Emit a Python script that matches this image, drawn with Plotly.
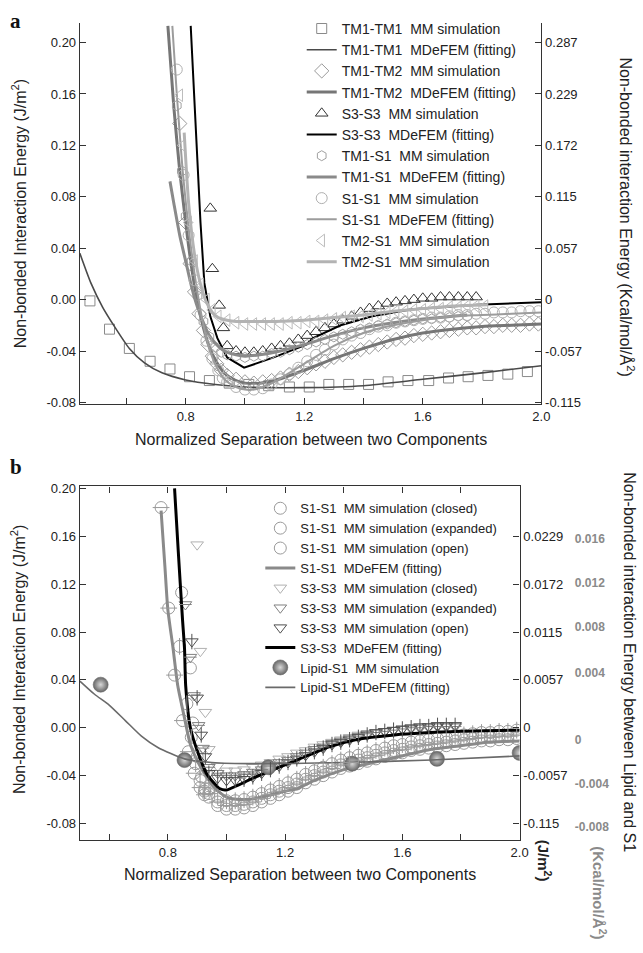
import plotly.graph_objects as go

W, H = 643, 953
NB = "\u00a0"

# ---------------- data ----------------
# shared separation grid for the dense MM series
G = [0.94, 0.97, 1.00, 1.03, 1.06, 1.09, 1.12, 1.15, 1.18, 1.21, 1.24, 1.27,
     1.30, 1.33, 1.36, 1.39, 1.42, 1.45, 1.48, 1.51, 1.54, 1.57, 1.60, 1.63,
     1.66, 1.69, 1.72, 1.75, 1.78, 1.81, 1.84, 1.87, 1.90, 1.93, 1.96, 1.99]

# ----- panel a -----
A_TM1TM1_MM_X = [0.477, 0.543, 0.610, 0.680, 0.747, 0.813, 0.880, 0.947, 1.013, 1.080, 1.150, 1.217,
                 1.283, 1.350, 1.417, 1.483, 1.550, 1.620, 1.687, 1.753, 1.820, 1.887, 1.953]
A_TM1TM1_MM_Y = [-0.001, -0.023, -0.038, -0.048, -0.054, -0.060, -0.063, -0.065, -0.066, -0.067, -0.068, -0.068,
                 -0.066, -0.066, -0.066, -0.064, -0.063, -0.063, -0.061, -0.060, -0.059, -0.058, -0.056]
A_TM1TM1_FIT_X = [0.443, 0.48, 0.52, 0.56, 0.61, 0.66, 0.72, 0.80, 0.90, 1.00, 1.20, 1.40, 1.60, 1.80, 2.00]
A_TM1TM1_FIT_Y = [0.036, 0.013, -0.006, -0.021, -0.038, -0.049, -0.057, -0.0625, -0.066, -0.068, -0.0685,
                  -0.067, -0.062, -0.057, -0.0515]

A_TM1TM2_MM_STEEP_X = [0.78, 0.80, 0.815, 0.83, 0.845, 0.86, 0.875, 0.89, 0.905, 0.92]
A_TM1TM2_MM_STEEP_Y = [0.137, 0.060, 0.028, 0.006, -0.011, -0.024, -0.035, -0.044, -0.050, -0.055]
A_TM1TM2_MM_Y = [-0.059, -0.062, -0.064, -0.065, -0.064, -0.063, -0.061, -0.058, -0.056, -0.053, -0.050, -0.048,
                 -0.045, -0.043, -0.041, -0.039, -0.037, -0.035, -0.033, -0.031, -0.030, -0.028, -0.027, -0.026,
                 -0.025, -0.024, -0.023, -0.022, -0.022, -0.021, -0.021, -0.020, -0.020, -0.020, -0.019, -0.019]
A_TM1TM2_FIT_X = [0.74, 0.76, 0.78, 0.80, 0.82, 0.84, 0.86, 0.88, 0.90, 0.93, 0.96, 1.00, 1.05, 1.10,
                  1.20, 1.30, 1.40, 1.50, 1.60, 1.70, 1.80, 1.90, 2.00]
A_TM1TM2_FIT_Y = [0.213, 0.150, 0.100, 0.060, 0.025, -0.002, -0.022, -0.037, -0.047, -0.057, -0.062, -0.065,
                  -0.065, -0.063, -0.055, -0.046, -0.038, -0.031, -0.026, -0.023, -0.021, -0.020, -0.019]

A_S3S3_MM_STEEP_X = [0.883, 0.89, 0.913, 0.927]
A_S3S3_MM_STEEP_Y = [0.071, 0.024, -0.0045, -0.022]
A_S3S3_MM_Y = [-0.036, -0.040, -0.041, -0.041, -0.040, -0.038, -0.036, -0.034, -0.031, -0.028, -0.025, -0.022,
               -0.019, -0.016, -0.013, -0.010, -0.007, -0.005, -0.003, -0.002, -0.001, 0.000, 0.001, 0.001,
               0.002, 0.002, 0.002, 0.002, 0.002]
A_S3S3_FIT_X = [0.817, 0.832, 0.85, 0.863, 0.883, 0.907, 0.94, 0.997, 1.097, 1.207, 1.23, 1.323, 1.43,
                1.563, 1.783, 2.0]
A_S3S3_FIT_Y = [0.213, 0.140, 0.060, 0.013, -0.013, -0.030, -0.045, -0.053, -0.045, -0.035, -0.030, -0.020,
                -0.013, -0.0075, -0.004, -0.002]

A_TM1S1_MM_STEEP_X = [0.77, 0.787, 0.80, 0.82, 0.84, 0.86, 0.88, 0.90, 0.92]
A_TM1S1_MM_STEEP_Y = [0.151, 0.100, 0.065, 0.030, 0.003, -0.017, -0.029, -0.037, -0.041]
A_TM1S1_MM_Y = [-0.043, -0.044, -0.045, -0.044, -0.044, -0.042, -0.041, -0.039, -0.037, -0.035, -0.033, -0.031,
                -0.029, -0.027, -0.025, -0.023, -0.022, -0.020, -0.019, -0.018, -0.017, -0.016, -0.015, -0.015,
                -0.014, -0.014, -0.013, -0.013]
A_TM1S1_FIT_X = [0.747, 0.76, 0.78, 0.80, 0.82, 0.84, 0.86, 0.88, 0.90, 0.93, 0.97, 1.00, 1.05, 1.10,
                 1.20, 1.30, 1.40, 1.50, 1.60, 1.70, 1.75]
A_TM1S1_FIT_Y = [0.092, 0.075, 0.050, 0.030, 0.010, -0.006, -0.018, -0.028, -0.034, -0.040, -0.043, -0.044,
                 -0.043, -0.041, -0.035, -0.028, -0.022, -0.018, -0.015, -0.013, -0.012]

A_S1S1_MM_STEEP_X = [0.77, 0.793, 0.81, 0.83, 0.85, 0.87, 0.89, 0.91, 0.925]
A_S1S1_MM_STEEP_Y = [0.179, 0.097, 0.050, 0.015, -0.012, -0.032, -0.046, -0.055, -0.061]
A_S1S1_MM_Y = [-0.064, -0.068, -0.070, -0.070, -0.069, -0.066, -0.062, -0.058, -0.053, -0.048, -0.043, -0.039,
               -0.035, -0.031, -0.028, -0.026, -0.023, -0.021, -0.020, -0.018, -0.017, -0.016, -0.015, -0.014,
               -0.014, -0.013, -0.012, -0.012, -0.011, -0.011, -0.010, -0.010, -0.010, -0.009, -0.009, -0.009]
A_S1S1_FIT_X = [0.755, 0.77, 0.79, 0.81, 0.83, 0.85, 0.87, 0.89, 0.91, 0.94, 0.97, 1.00, 1.03, 1.07, 1.10,
                1.15, 1.20, 1.30, 1.40, 1.50, 1.60, 1.70, 1.80, 1.90, 2.00]
A_S1S1_FIT_Y = [0.213, 0.160, 0.100, 0.055, 0.020, -0.008, -0.030, -0.045, -0.055, -0.064, -0.068, -0.070,
                -0.070, -0.067, -0.064, -0.057, -0.050, -0.036, -0.026, -0.020, -0.016, -0.013, -0.012, -0.011, -0.010]

A_TM2S1_MM_STEEP_X = [0.78, 0.79, 0.81, 0.83, 0.85, 0.87, 0.89, 0.91]
A_TM2S1_MM_STEEP_Y = [0.159, 0.120, 0.060, 0.030, 0.012, 0.000, -0.008, -0.013]
A_TM2S1_MM_Y = [-0.016, -0.018, -0.019, -0.019, -0.019, -0.019, -0.019, -0.018, -0.018, -0.017, -0.017, -0.016,
                -0.015, -0.014, -0.013, -0.013, -0.012, -0.011, -0.010, -0.009, -0.009, -0.008, -0.008, -0.007,
                -0.007, -0.006, -0.006, -0.005, -0.005, -0.005]
A_TM2S1_FIT_X = [0.795, 0.81, 0.83, 0.85, 0.87, 0.89, 0.91, 0.94, 0.97, 1.00, 1.10, 1.20, 1.30, 1.40,
                 1.50, 1.60, 1.70, 1.82]
A_TM2S1_FIT_Y = [0.130, 0.075, 0.035, 0.012, -0.002, -0.010, -0.014, -0.016, -0.017, -0.017, -0.017, -0.016,
                 -0.014, -0.012, -0.009, -0.007, -0.005, -0.004]

# ----- panel b -----
B_S1_CLOSED_STEEP_X = [0.847, 0.877, 0.885, 0.90, 0.915, 0.927]
B_S1_CLOSED_STEEP_Y = [0.113, 0.050, 0.004, -0.024, -0.041, -0.051]
B_S1_CLOSED_Y = [-0.058, -0.065, -0.068, -0.068, -0.067, -0.065, -0.062, -0.059, -0.056, -0.053, -0.050, -0.046,
                 -0.043, -0.040, -0.037, -0.034, -0.032, -0.030, -0.028, -0.026, -0.024, -0.022, -0.021, -0.019,
                 -0.018, -0.017, -0.016, -0.015, -0.014, -0.013, -0.012, -0.011, -0.011, -0.010, -0.010, -0.009]
B_S1_EXP_STEEP_X = [0.777, 0.803, 0.823, 0.85, 0.87, 0.89, 0.91, 0.925]
B_S1_EXP_STEEP_Y = [0.184, 0.100, 0.044, 0.006, -0.020, -0.038, -0.050, -0.056]
B_S1_EXP_Y = [-0.055, -0.062, -0.065, -0.065, -0.064, -0.062, -0.059, -0.056, -0.053, -0.050, -0.047, -0.043,
              -0.040, -0.037, -0.034, -0.031, -0.029, -0.027, -0.025, -0.023, -0.021, -0.019, -0.018, -0.016,
              -0.015, -0.014, -0.013, -0.012, -0.011, -0.010, -0.009, -0.008, -0.008, -0.007, -0.007, -0.006]
B_S1_OPEN_STEEP_X = [0.84, 0.865, 0.88, 0.895, 0.91, 0.925]
B_S1_OPEN_STEEP_Y = [0.068, 0.020, -0.008, -0.030, -0.044, -0.053]
B_S1_OPEN_Y = [-0.051, -0.058, -0.061, -0.061, -0.060, -0.058, -0.055, -0.052, -0.049, -0.046, -0.043, -0.039,
               -0.036, -0.033, -0.030, -0.027, -0.025, -0.023, -0.021, -0.019, -0.017, -0.015, -0.014, -0.012,
               -0.011, -0.010, -0.009, -0.008, -0.007, -0.006, -0.005, -0.004, -0.004, -0.003, -0.003, -0.002]
B_S1_FIT_X = [0.777, 0.79, 0.80, 0.817, 0.834, 0.857, 0.877, 0.91, 0.958, 1.00, 1.05, 1.10, 1.20, 1.24,
              1.30, 1.40, 1.50, 1.573, 1.70, 1.80, 1.90, 2.00]
B_S1_FIT_Y = [0.1815, 0.135, 0.099, 0.068, 0.035, 0.008, -0.014, -0.032, -0.050, -0.058, -0.060, -0.059,
              -0.053, -0.051, -0.044, -0.035, -0.029, -0.025, -0.018, -0.015, -0.012, -0.011]

B_S3_CLOSED_STEEP_X = [0.90, 0.911, 0.928]
B_S3_CLOSED_STEEP_Y = [0.153, 0.064, 0.013]
B_S3_CLOSED_Y = [-0.018, -0.032, -0.036, -0.036, -0.035, -0.033, -0.031, -0.029, -0.026, -0.024, -0.021, -0.019,
                 -0.016, -0.014, -0.012, -0.010, -0.008, -0.006, -0.005, -0.004, -0.003, -0.002, -0.001, -0.001,
                 0.000, 0.000, 0.001, 0.001, 0.001]
B_S3_EXP_STEEP_X = [0.86, 0.877, 0.89, 0.905, 0.92]
B_S3_EXP_STEEP_Y = [0.103, 0.059, 0.027, 0.002, -0.017]
B_S3_EXP_Y = [-0.033, -0.038, -0.040, -0.040, -0.039, -0.037, -0.035, -0.032, -0.029, -0.027, -0.024, -0.021,
              -0.018, -0.016, -0.013, -0.011, -0.009, -0.007, -0.005, -0.004, -0.003, -0.002, -0.001, 0.000,
              0.000, 0.001, 0.001, 0.001, 0.001]
B_S3_OPEN_STEEP_X = [0.882, 0.90, 0.914, 0.928]
B_S3_OPEN_STEEP_Y = [0.072, 0.025, -0.006, -0.024]
B_S3_OPEN_Y = [-0.038, -0.042, -0.044, -0.044, -0.043, -0.041, -0.038, -0.035, -0.032, -0.029, -0.026, -0.023,
               -0.020, -0.017, -0.014, -0.012, -0.010, -0.008, -0.006, -0.004, -0.003, -0.002, -0.001, 0.000,
               0.001, 0.001, 0.002, 0.002, 0.002]
B_S3_FIT_X = [0.823, 0.835, 0.85, 0.857, 0.861, 0.877, 0.90, 0.934, 0.978, 1.00, 1.10, 1.27, 1.35, 1.44,
              1.573, 1.80, 2.00]
B_S3_FIT_Y = [0.200, 0.150, 0.091, 0.066, 0.035, 0.000, -0.019, -0.039, -0.051, -0.052, -0.041, -0.024,
              -0.016, -0.010, -0.006, -0.003, -0.002]

B_LIPID_MM_X = [0.571, 0.857, 1.143, 1.429, 1.718, 2.0]
B_LIPID_MM_Y = [0.036, -0.027, -0.033, -0.030, -0.026, -0.021]
B_LIPID_FIT_X = [0.50, 0.55, 0.60, 0.655, 0.71, 0.766, 0.857, 0.95, 1.10, 1.40, 1.70, 2.00]
B_LIPID_FIT_Y = [0.039, 0.028, 0.019, 0.006, -0.007, -0.0165, -0.026, -0.029, -0.030, -0.029, -0.027, -0.0235]

# axis tick labels
LEFT_TICKS = [0.20, 0.16, 0.12, 0.08, 0.04, 0.00, -0.04, -0.08]
LEFT_TEXT = ["0.20", "0.16", "0.12", "0.08", "0.04", "0.00", "-0.04", "-0.08"]
A_RIGHT_TEXT = ["0.287", "0.229", "0.172", "0.115", "0.057", "0", "-0.057", "-0.115"]
B_RIGHT_TICKS = [0.16, 0.12, 0.08, 0.04, 0.00, -0.04, -0.08]
B_RIGHT_TEXT = ["0.0229", "0.0172", "0.0115", "0.0057", "0", "-0.0057", "-0.115"]
B_LIPID_TICKS = [0.158, 0.121, 0.084, 0.046, -0.0099, -0.047, -0.0825]
B_LIPID_TEXT = ["0.016", "0.012", "0.008", "0.004", "0", "-0.004", "-0.008"]
X_TICKS = [0.8, 1.2, 1.6, 2.0]
X_TEXT = ["0.8", "1.2", "1.6", "2.0"]
X_MINOR = [0.6, 1.0, 1.4, 1.8]

# ---------------- figure ----------------
FONT = "Arial, Liberation Sans, sans-serif"
fig = go.Figure()


def mm(x, y, name, sym, color, size, ax, leg="legend", lw=1.0, show=True):
    fig.add_trace(go.Scatter(
        x=x, y=y, name=name, mode="markers", xaxis=ax[0], yaxis=ax[1], legend=leg,
        showlegend=show, cliponaxis=True, hoverinfo="skip",
        marker=dict(symbol=sym, size=size, color=color, line=dict(width=lw, color=color))))


def fit(x, y, name, color, width, ax, leg, shape="spline"):
    fig.add_trace(go.Scatter(
        x=x, y=y, name=name, mode="lines", xaxis=ax[0], yaxis=ax[1], legend=leg, hoverinfo="skip",
        line=dict(color=color, width=width, shape=shape, smoothing=0.6)))


AX_A = ("x", "y")
AX_B = ("x2", "y3")

# panel a traces (legend order)
mm(A_TM1TM1_MM_X, A_TM1TM1_MM_Y, "TM1-TM1" + NB * 2 + "MM simulation", "square-open", "#8a8a8a", 10, AX_A)
fit(A_TM1TM1_FIT_X, A_TM1TM1_FIT_Y, "TM1-TM1" + NB * 2 + "MDeFEM (fitting)", "#4a4a4a", 1.6, AX_A, "legend")
mm(A_TM1TM2_MM_STEEP_X + G, A_TM1TM2_MM_STEEP_Y + A_TM1TM2_MM_Y, "TM1-TM2" + NB * 2 + "MM simulation",
   "diamond-open", "#9a9a9a", 11, AX_A)
fit(A_TM1TM2_FIT_X, A_TM1TM2_FIT_Y, "TM1-TM2" + NB * 2 + "MDeFEM (fitting)", "#767676", 3, AX_A, "legend")
mm(A_S3S3_MM_STEEP_X + G[:29], A_S3S3_MM_STEEP_Y + A_S3S3_MM_Y, "S3-S3" + NB * 2 + "MM simulation",
   "triangle-up-open", "#333333", 11, AX_A)
fit(A_S3S3_FIT_X, A_S3S3_FIT_Y, "S3-S3" + NB * 2 + "MDeFEM (fitting)", "#000000", 2, AX_A, "legend", "linear")
mm(A_TM1S1_MM_STEEP_X + G[:28], A_TM1S1_MM_STEEP_Y + A_TM1S1_MM_Y, "TM1-S1" + NB * 2 + "MM simulation",
   "hexagon-open", "#a0a0a0", 10, AX_A)
fit(A_TM1S1_FIT_X, A_TM1S1_FIT_Y, "TM1-S1" + NB * 2 + "MDeFEM (fitting)", "#8a8a8a", 3, AX_A, "legend")
mm(A_S1S1_MM_STEEP_X + G, A_S1S1_MM_STEEP_Y + A_S1S1_MM_Y, "S1-S1" + NB * 2 + "MM simulation",
   "circle-open", "#b0b0b0", 11, AX_A)
fit(A_S1S1_FIT_X, A_S1S1_FIT_Y, "S1-S1" + NB * 2 + "MDeFEM (fitting)", "#9c9c9c", 2, AX_A, "legend")
mm(A_TM2S1_MM_STEEP_X + G[:30], A_TM2S1_MM_STEEP_Y + A_TM2S1_MM_Y, "TM2-S1" + NB * 2 + "MM simulation",
   "triangle-left-open", "#bdbdbd", 11, AX_A)
fit(A_TM2S1_FIT_X, A_TM2S1_FIT_Y, "TM2-S1" + NB * 2 + "MM simulation", "#b3b3b3", 3, AX_A, "legend")

# panel b traces
S1C = "#9a9a9a"
mm(B_S1_CLOSED_STEEP_X + G, B_S1_CLOSED_STEEP_Y + B_S1_CLOSED_Y, "S1-S1" + NB * 2 + "MM simulation (closed)",
   "circle-open", S1C, 12, AX_B, "legend2")
mm(B_S1_EXP_STEEP_X + G, B_S1_EXP_STEEP_Y + B_S1_EXP_Y, "S1-S1" + NB * 2 + "MM simulation (expanded)",
   "circle-open", S1C, 12, AX_B, "legend2")
mm(B_S1_OPEN_STEEP_X + G, B_S1_OPEN_STEEP_Y + B_S1_OPEN_Y, "S1-S1" + NB * 2 + "MM simulation (open)",
   "circle-open", S1C, 12, AX_B, "legend2")
fit(B_S1_FIT_X, B_S1_FIT_Y, "S1-S1" + NB * 2 + "MDeFEM (fitting)", "#8a8a8a", 3, AX_B, "legend2")
mm(B_S3_CLOSED_STEEP_X + G[:29], B_S3_CLOSED_STEEP_Y + B_S3_CLOSED_Y, "S3-S3" + NB * 2 + "MM simulation (closed)",
   "triangle-down-open", "#b0b0b0", 11, AX_B, "legend2")
mm(B_S3_EXP_STEEP_X + G[:29], B_S3_EXP_STEEP_Y + B_S3_EXP_Y, "S3-S3" + NB * 2 + "MM simulation (expanded)",
   "triangle-down-open", "#808080", 11, AX_B, "legend2")
mm(B_S3_OPEN_STEEP_X + G[:29], B_S3_OPEN_STEEP_Y + B_S3_OPEN_Y, "S3-S3" + NB * 2 + "MM simulation (open)",
   "triangle-down-open", "#505050", 11, AX_B, "legend2")
fit(B_S3_FIT_X, B_S3_FIT_Y, "S3-S3" + NB * 2 + "MDeFEM (fitting)", "#000000", 3, AX_B, "legend2")
fig.add_trace(go.Scatter(
    x=B_LIPID_MM_X, y=B_LIPID_MM_Y, name="Lipid-S1" + NB * 2 + "MM simulation", mode="markers",
    xaxis="x2", yaxis="y3", legend="legend2", hoverinfo="skip",
    marker=dict(symbol="circle", size=15, color="#666666", gradient=dict(type="radial", color="#d8d8d8"),
                line=dict(width=0.6, color="#6a6a6a"))))
fit(B_LIPID_FIT_X, B_LIPID_FIT_Y, "Lipid-S1 MDeFEM (fitting)", "#6a6a6a", 1.6, AX_B, "legend2")

# bar strokes inside the expanded / open symbols
mm(B_S1_EXP_STEEP_X + G, B_S1_EXP_STEEP_Y + B_S1_EXP_Y, "S1 expanded", "line-ew-open", S1C, 12, AX_B, show=False)
mm(B_S1_OPEN_STEEP_X + G, B_S1_OPEN_STEEP_Y + B_S1_OPEN_Y, "S1 open", "line-ns-open", S1C, 12, AX_B, show=False)
mm(B_S3_EXP_STEEP_X + G[:29], B_S3_EXP_STEEP_Y + B_S3_EXP_Y, "S3 expanded", "line-ew-open", "#808080", 9, AX_B,
   show=False)
mm(B_S3_OPEN_STEEP_X + G[:29], B_S3_OPEN_STEEP_Y + B_S3_OPEN_Y, "S3 open", "line-ns-open", "#505050", 11, AX_B,
   show=False)

# empty traces so that the secondary (right-hand) axes are drawn
for ax in [("x", "y2"), ("x2", "y4"), ("x2", "y5")]:
    fig.add_trace(go.Scatter(x=[None], y=[None], mode="markers", xaxis=ax[0], yaxis=ax[1],
                             showlegend=False, hoverinfo="skip"))

# ---------------- layout ----------------
def px_x(p):
    return p / W


def px_y(p):
    return 1 - p / H


AXC = "#333333"
tickfont = dict(family=FONT, size=13, color="#222")
titlefont = dict(family=FONT, size=16, color="#222")

minor = dict(tickvals=X_MINOR, ticks="inside", ticklen=6, tickcolor=AXC, showgrid=False)
common_x = dict(tickmode="array", tickvals=X_TICKS, ticktext=X_TEXT, ticks="inside", ticklen=6, tickcolor=AXC,
                showline=True, linecolor=AXC, linewidth=1.3, showgrid=False, zeroline=False,
                tickfont=tickfont, minor=minor)
common_y = dict(tickvals=LEFT_TICKS, ticktext=LEFT_TEXT, ticks="inside", ticklen=6, tickcolor=AXC,
                showline=True, linecolor=AXC, linewidth=1.3, showgrid=False, zeroline=False,
                tickfont=tickfont)

A_YR = [-0.0815, 0.2154]
B_YR = [-0.094, 0.2017]


def ann(text, x, y, angle=0, font=titlefont, xa="center", ya="middle"):
    return dict(text=text, x=px_x(x), y=px_y(y), xref="paper", yref="paper", textangle=angle,
                showarrow=False, xanchor=xa, yanchor=ya, font=font)


fig.update_layout(
    width=W, height=H, margin=dict(l=0, r=0, t=0, b=0),
    paper_bgcolor="white", plot_bgcolor="rgba(0,0,0,0)",
    font=dict(family=FONT, color="#222"),
    xaxis=dict(domain=[px_x(81), px_x(549)], range=[0.443, 2.0], anchor="y", **common_x),
    yaxis=dict(domain=[px_y(404), px_y(18)], range=A_YR, anchor="x", **common_y),
    yaxis2=dict(overlaying="y", side="right", anchor="x", range=A_YR, tickvals=LEFT_TICKS,
                ticktext=A_RIGHT_TEXT, ticks="inside", ticklen=6, tickcolor=AXC, showline=True,
                linecolor=AXC, linewidth=1.3, showgrid=False, zeroline=False, tickfont=tickfont),
    xaxis2=dict(domain=[px_x(81), px_x(527)], range=[0.5, 2.0], anchor="y3", mirror="ticks", **common_x),
    yaxis3=dict(domain=[px_y(845), px_y(487)], range=B_YR, anchor="x2", **common_y),
    yaxis4=dict(overlaying="y3", side="right", anchor="x2", range=B_YR, tickvals=B_RIGHT_TICKS,
                ticktext=B_RIGHT_TEXT, ticks="inside", ticklen=6, tickcolor=AXC, showline=True,
                linecolor=AXC, linewidth=1.3, showgrid=False, zeroline=False, tickfont=tickfont),
    yaxis5=dict(overlaying="y3", side="right", anchor="free", position=px_x(582), range=B_YR,
                tickvals=B_LIPID_TICKS, ticktext=B_LIPID_TEXT, ticks="", showline=False, showgrid=False,
                zeroline=False, tickfont=dict(family=FONT, size=12, color="#8a8a8a", weight="bold")),
    legend=dict(x=px_x(306), y=px_y(8), xanchor="left", yanchor="top", bgcolor="rgba(0,0,0,0)",
                font=dict(family=FONT, size=14, color="#222"), itemwidth=30),
    legend2=dict(x=px_x(264), y=px_y(494), xanchor="left", yanchor="top", bgcolor="rgba(0,0,0,0)",
                 font=dict(family=FONT, size=13, color="#222"), itemwidth=30),
    annotations=[
        ann("<b>a</b>", 8, 2, font=dict(family="Liberation Serif, serif", size=21, color="#111"),
            xa="left", ya="top"),
        ann("<b>b</b>", 8, 453, font=dict(family="Liberation Serif, serif", size=21, color="#111"),
            xa="left", ya="top"),
        ann("Non-bonded Interaction Energy (J/m<sup>2</sup>)", 19, 211, angle=-90),
        ann("Non-bonded Interaction Energy (J/m<sup>2</sup>)", 19, 662, angle=-90),
        ann("Normalized Separation between two Components", 315, 440),
        ann("Normalized Separation between two Components", 304, 880),
        ann("Non-bonded interaction Energy (Kcal/mol/Å<sup>2</sup>)", 636, 214, angle=90),
        ann("Non-bonded interaction Energy between Lipid and S1", 639, 665, angle=90,
            font=dict(family=FONT, size=16, color="#222")),
        ann("<b>(J/m<sup>2</sup>)</b>", 553, 866, angle=90, font=dict(family=FONT, size=15, color="#222")),
        ann("<b>(Kcal/mol/Å<sup>2</sup>)</b>", 608, 898, angle=90,
            font=dict(family=FONT, size=15, color="#8a8a8a")),
    ],
)

fig.write_html("out.html", config={"displayModeBar": False},
               post_script="document.body.style.margin='0px';")
